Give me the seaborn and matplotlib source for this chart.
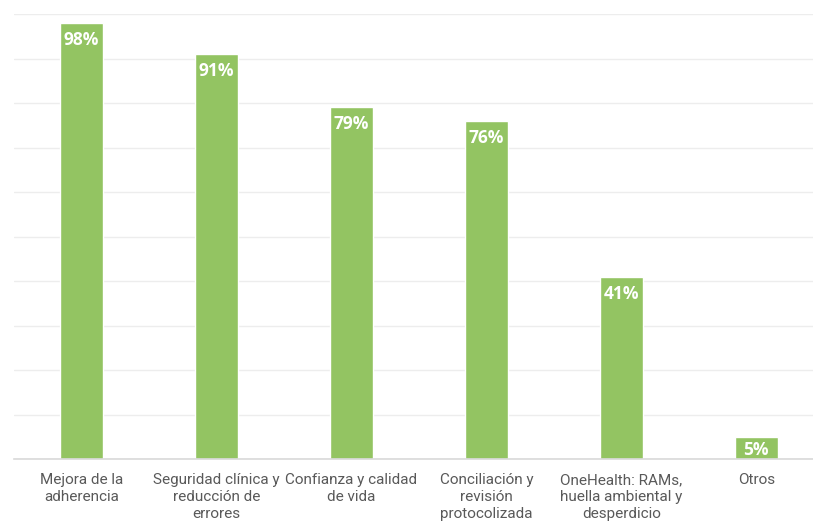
import matplotlib
matplotlib.use("Agg")
import matplotlib.pyplot as plt
import seaborn as sns
import pandas as pd

# Data
categorias = [
    "Mejora de la\nadherencia",
    "Seguridad clínica y\nreducción de\nerrores",
    "Confianza y calidad\nde vida",
    "Conciliación y\nrevisión\nprotocolizada",
    "OneHealth: RAMs,\nhuella ambiental y\ndesperdicio",
    "Otros",
]
porcentajes = [98, 91, 79, 76, 41, 5]

df = pd.DataFrame({"categoria": categorias, "valor": porcentajes})

sns.set_theme(style="white")
plt.rcParams["font.family"] = ["Open Sans", "DejaVu Sans"]

fig = plt.figure(figsize=(8.13, 5.24), dpi=100)
ax = fig.add_axes([14 / 813, 65 / 524, 799 / 813, 445 / 524])

sns.barplot(data=df, x="categoria", y="valor", color="#93C462",
            saturation=1, width=0.315, ax=ax, zorder=3)

ax.set_ylim(0, 100)
ax.set_xlim(-0.5, 5.42)
ax.set_yticks(range(0, 101, 10))
ax.yaxis.grid(True, color="#EDEDED", linewidth=1, zorder=0)
ax.set_yticklabels([])
ax.tick_params(axis="y", length=0)
ax.tick_params(axis="x", length=0, pad=10, labelsize=11, labelcolor="#595959")
for lbl in ax.get_xticklabels():
    lbl.set_linespacing(1.3)
    lbl.set_family(["Roboto", "DejaVu Sans"])
ax.set_xlabel("")
ax.set_ylabel("")
for s in ["top", "right", "left"]:
    ax.spines[s].set_visible(False)
ax.spines["bottom"].set_color("#D9D9D9")
ax.spines["bottom"].set_linewidth(1.2)
ax.spines["bottom"].set_zorder(4)

# label sits ~17 px below bar top, or at mid-bar for short bars
px_per_unit = 445 / 100
for i, v in enumerate(porcentajes):
    off = min(17, v * px_per_unit / 2 + 2)
    ax.annotate(f"{v}%", (i, v), xytext=(0, -off), textcoords="offset pixels",
                ha="center", va="center", color="white", fontsize=12.5,
                fontweight="bold", zorder=5)

fig.savefig("out.png", dpi=100)
